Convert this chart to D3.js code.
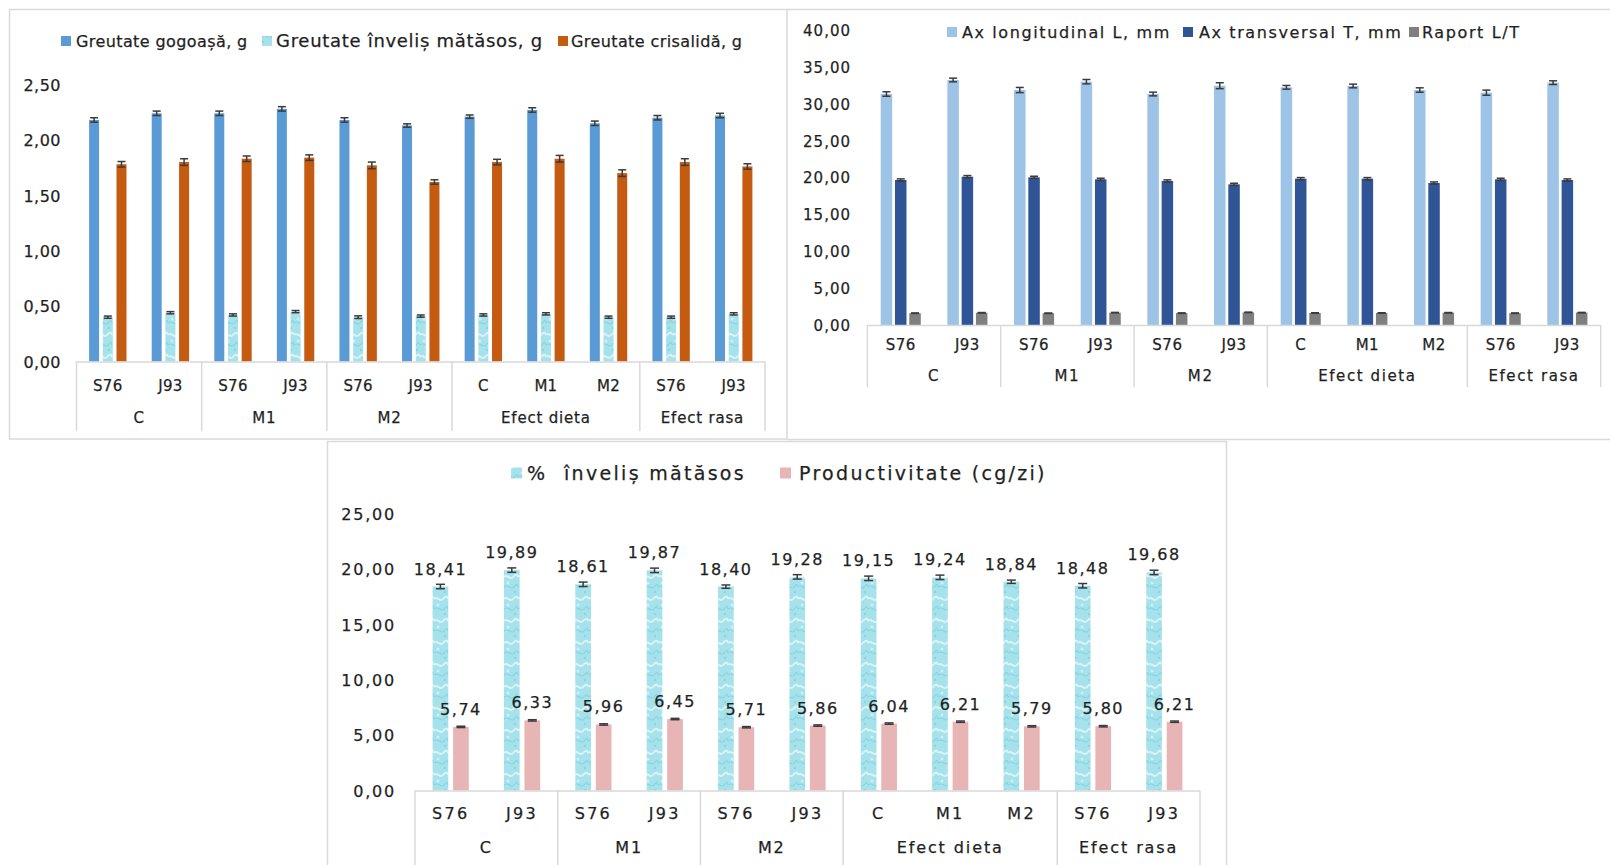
<!DOCTYPE html>
<html><head><meta charset="utf-8">
<script src="https://cdn.jsdelivr.net/npm/d3@7"></script>
<style>
body{margin:0;background:#fff;}
svg{display:block;}
text{font-family:"DejaVu Sans", Verdana, sans-serif; fill:#1f1f1f; stroke:#1f1f1f; stroke-width:0.25px;}
</style></head><body>
<svg id="chart" width="1610" height="865"></svg>
<script>
// ---------- shared categories ----------
const categories = ["S76","J93","S76","J93","S76","J93","C","M1","M2","S76","J93"];
const groupNames = ["C","M1","M2","Efect dieta","Efect rasa"];
const groupSizes = [2,2,2,3,2];

// ---------- panel 1: weights (g) ----------
const seriesNames1 = ["Greutate gogoașă, g","Greutate înveliș mătăsos, g","Greutate crisalidă, g"];
const cocoonWeight = [2.18,2.24,2.24,2.28,2.18,2.13,2.21,2.27,2.15,2.20,2.22];
const cocoonErr    = [0.02,0.02,0.02,0.02,0.02,0.015,0.015,0.02,0.02,0.02,0.02];
const shellWeight  = [0.40,0.44,0.42,0.45,0.40,0.41,0.42,0.43,0.40,0.40,0.43];
const shellErr     = [0.01,0.01,0.01,0.01,0.012,0.01,0.01,0.01,0.01,0.01,0.01];
const pupaWeight   = [1.78,1.80,1.83,1.84,1.77,1.62,1.80,1.83,1.70,1.80,1.76];
const pupaErr      = [0.025,0.03,0.025,0.025,0.03,0.02,0.025,0.03,0.03,0.03,0.025];
const yTicks1 = [0,0.5,1,1.5,2,2.5];

// ---------- panel 2: axes (mm) ----------
const seriesNames2 = ["Ax longitudinal L, mm","Ax transversal T, mm","Raport L/T"];
const axisL    = [31.32,33.22,31.86,32.99,31.32,32.45,32.23,32.41,31.86,31.50,32.86];
const axisLErr = [0.3,0.25,0.35,0.3,0.25,0.4,0.25,0.25,0.3,0.35,0.25];
const axisT    = [19.66,20.11,20.02,19.75,19.53,19.07,19.84,19.84,19.25,19.75,19.66];
const axisTErr = [0.15,0.15,0.15,0.15,0.15,0.15,0.15,0.15,0.15,0.15,0.15];
const ratioLT  = [1.60,1.66,1.59,1.68,1.61,1.71,1.63,1.63,1.66,1.60,1.68];
const ratioErr = [0.03,0.03,0.03,0.03,0.03,0.03,0.03,0.03,0.03,0.03,0.03];
const yTicks2 = [0,5,10,15,20,25,30,35,40];

// ---------- panel 3: % shell and productivity ----------
const seriesNames3 = ["%  înveliș mătăsos","Productivitate (cg/zi)"];
const shellPct      = [18.41,19.89,18.61,19.87,18.40,19.28,19.15,19.24,18.84,18.48,19.68];
const shellPctErr   = [0.2,0.2,0.2,0.2,0.15,0.2,0.2,0.2,0.15,0.2,0.2];
const productivity  = [5.74,6.33,5.96,6.45,5.71,5.86,6.04,6.21,5.79,5.80,6.21];
const productivityErr = [0.06,0.06,0.06,0.06,0.06,0.06,0.06,0.06,0.06,0.06,0.06];
const yTicks3 = [0,5,10,15,20,25];

// ---------- drawing ----------
const locale = d3.formatLocale({decimal:",", thousands:".", grouping:[3], currency:["",""]});
const fmt = locale.format(".2f");

const svg = d3.select("#chart");
const defs = svg.append("defs");
const pat = defs.append("pattern").attr("id","silk").attr("patternUnits","userSpaceOnUse")
  .attr("width",14).attr("height",22);
pat.append("rect").attr("width",14).attr("height",22).attr("fill","#a6e2ec");
pat.append("path").attr("d","M0,5 C3,1 6,9 9,5 S14,3 14,5").attr("fill","none")
  .attr("stroke","#dff6f9").attr("stroke-width",2).attr("opacity",0.9);
pat.append("path").attr("d","M0,15 C4,11 7,19 10,15 S14,13 14,15").attr("fill","none")
  .attr("stroke","#7fcfdc").attr("stroke-width",1.2).attr("opacity",0.8);
pat.append("circle").attr("cx",4).attr("cy",11).attr("r",1.5).attr("fill","#ccf0f5");
pat.append("circle").attr("cx",11).attr("cy",20).attr("r",1.2).attr("fill","#8ad5e1");

const borderColor = "#d9d9d9";
// panel borders
svg.append("rect").attr("x",9.5).attr("y",9.5).attr("width",777.5).attr("height",429.5)
  .attr("fill","none").attr("stroke",borderColor).attr("stroke-width",1.5);
svg.append("line").attr("x1",787).attr("x2",1610).attr("y1",9.5).attr("y2",9.5)
  .attr("stroke",borderColor).attr("stroke-width",1.5);
svg.append("line").attr("x1",787).attr("x2",1610).attr("y1",439.5).attr("y2",439.5)
  .attr("stroke",borderColor).attr("stroke-width",1.5);
svg.append("rect").attr("x",327.5).attr("y",441.5).attr("width",899).attr("height",440)
  .attr("fill","#fff").attr("stroke",borderColor).attr("stroke-width",1.5);

function styleText(sel, f){
  sel.attr("font-size", f[0]).attr("letter-spacing", f[1]);
}

function drawPanel(cfg){
  const g = svg.append("g");
  const x = d3.scaleBand().domain(d3.range(categories.length)).range([cfg.x0, cfg.x1]).padding(0);
  const xs = d3.scaleBand().domain(d3.range(cfg.series.length)).range([0, x.bandwidth()])
    .paddingInner(cfg.pi).paddingOuter(cfg.po);
  const y = d3.scaleLinear().domain([0, cfg.ymax]).range([cfg.y0, cfg.ytop]);

  // y axis labels
  const ya = g.append("g").attr("transform", `translate(${cfg.yLabelRight},0)`)
    .call(d3.axisLeft(y).tickValues(cfg.yTicks).tickFormat(fmt).tickSize(0).tickPadding(0));
  ya.select(".domain").remove();
  ya.attr("font-family", null).attr("font-size", null);
  ya.selectAll("text").attr("fill","#1f1f1f").attr("dy","0.36em").call(styleText, cfg.fonts.y);

  // bars
  cfg.series.forEach((s, si) => {
    g.append("g").selectAll("rect").data(s.values).join("rect")
      .attr("x", (d,i) => x(i) + xs(si))
      .attr("width", xs.bandwidth())
      .attr("y", d => y(d))
      .attr("height", d => cfg.y0 - y(d))
      .attr("fill", s.fill);
    // error bars
    const eg = g.append("g").attr("stroke","#3b3b3b").attr("stroke-width",1.5);
    s.values.forEach((v,i) => {
      const cx = x(i) + xs(si) + xs.bandwidth()/2;
      const e = s.err[i];
      eg.append("line").attr("x1",cx).attr("x2",cx).attr("y1",y(v-e)).attr("y2",y(v+e));
      eg.append("line").attr("x1",cx-cfg.capW/2).attr("x2",cx+cfg.capW/2).attr("y1",y(v+e)).attr("y2",y(v+e));
      eg.append("line").attr("x1",cx-cfg.capW/2).attr("x2",cx+cfg.capW/2).attr("y1",y(v-e)).attr("y2",y(v-e));
    });
    if (cfg.labels) {
      g.append("g").selectAll("text").data(s.values).join("text")
        .attr("x", (d,i) => x(i) + xs(si) + xs.bandwidth()/2)
        .attr("y", d => y(d) - cfg.labelOffset)
        .attr("text-anchor","middle")
        .text(d => fmt(d))
        .call(styleText, cfg.fonts.label);
    }
  });

  // category axis
  const ag = g.append("g").attr("stroke", borderColor).attr("stroke-width",1.5);
  ag.append("line").attr("x1",cfg.x0).attr("x2",cfg.x1).attr("y1",cfg.y0+0.5).attr("y2",cfg.y0+0.5);
  let start = 0;
  const bounds = [0];
  groupSizes.forEach(n => { start += n; bounds.push(start); });
  bounds.forEach(b => {
    const bx = b < categories.length ? x(b) : cfg.x1;
    ag.append("line").attr("x1",bx).attr("x2",bx).attr("y1",cfg.y0).attr("y2",cfg.sepBottom);
  });
  g.append("g").selectAll("text").data(categories).join("text")
    .attr("x",(d,i) => x(i) + x.bandwidth()/2)
    .attr("y", cfg.tickY).attr("dy","0.36em").attr("text-anchor","middle")
    .text(d => d).call(styleText, cfg.fonts.tick);
  g.append("g").selectAll("text").data(groupNames).join("text")
    .attr("x",(d,i) => {
      const a = x(bounds[i]);
      const b = bounds[i+1] < categories.length ? x(bounds[i+1]) : cfg.x1;
      return (a+b)/2;
    })
    .attr("y", cfg.groupY).attr("dy","0.36em").attr("text-anchor","middle")
    .text(d => d).call(styleText, cfg.fonts.group);

  // legend
  cfg.series.forEach((s, si) => {
    const L = cfg.legend[si];
    g.append("rect").attr("x", L.sx).attr("y", cfg.legendY - cfg.sq/2)
      .attr("width", cfg.sq).attr("height", cfg.sq).attr("fill", s.fill);
    g.append("text").attr("x", L.tx).attr("y", cfg.legendY).attr("dy","0.36em")
      .style("white-space","pre")
      .text(s.name).call(styleText, L.font || cfg.fonts.legend);
  });
}

// Panel 1
drawPanel({
  x0:76.5, x1:765, y0:361.5, ytop:84.5, ymax:2.5, yTicks:yTicks1, yLabelRight:61,
  pi:0.27, po:0.92, capW:8, sepBottom:431, tickY:386, groupY:418,
  legendY:41, sq:10,
  legend:[{sx:61,tx:76},{sx:262,tx:276,font:[18,0.7]},{sx:558,tx:571}],
  fonts:{y:[16,0.5], tick:[15,0.3], group:[15,0.8], legend:[16,0.4]},
  series:[
    {name:seriesNames1[0], values:cocoonWeight, err:cocoonErr, fill:"#5b9bd5"},
    {name:seriesNames1[1], values:shellWeight, err:shellErr, fill:"url(#silk)"},
    {name:seriesNames1[2], values:pupaWeight, err:pupaErr, fill:"#c55a11"}
  ]
});

// Panel 2
drawPanel({
  x0:867.4, x1:1600.7, y0:325, ytop:30, ymax:40, yTicks:yTicks2, yLabelRight:851,
  pi:0.196, po:0.93, capW:8, sepBottom:387, tickY:345, groupY:376,
  legendY:32, sq:10,
  legend:[{sx:947,tx:962},{sx:1183,tx:1199},{sx:1409,tx:1422}],
  fonts:{y:[15,1], tick:[15,0.5], group:[15,1.6], legend:[16,1.6]},
  series:[
    {name:seriesNames2[0], values:axisL, err:axisLErr, fill:"#9dc3e6"},
    {name:seriesNames2[1], values:axisT, err:axisTErr, fill:"#2f5597"},
    {name:seriesNames2[2], values:ratioLT, err:ratioErr, fill:"#7f7f7f"}
  ]
});

// Panel 3
drawPanel({
  x0:415, x1:1200, y0:790.5, ytop:513.5, ymax:25, yTicks:yTicks3, yLabelRight:396,
  pi:0.234, po:0.857, capW:9, sepBottom:870, tickY:813, groupY:847.5,
  legendY:473, sq:11, labels:true, labelOffset:12,
  legend:[{sx:511,tx:527},{sx:780,tx:799}],
  fonts:{y:[16,1.8], tick:[16,2.3], group:[16,1.9], legend:[19,2.3], label:[16,1.5]},
  series:[
    {name:seriesNames3[0], values:shellPct, err:shellPctErr, fill:"url(#silk)"},
    {name:seriesNames3[1], values:productivity, err:productivityErr, fill:"#e8b5b6"}
  ]
});
</script>
</body></html>
